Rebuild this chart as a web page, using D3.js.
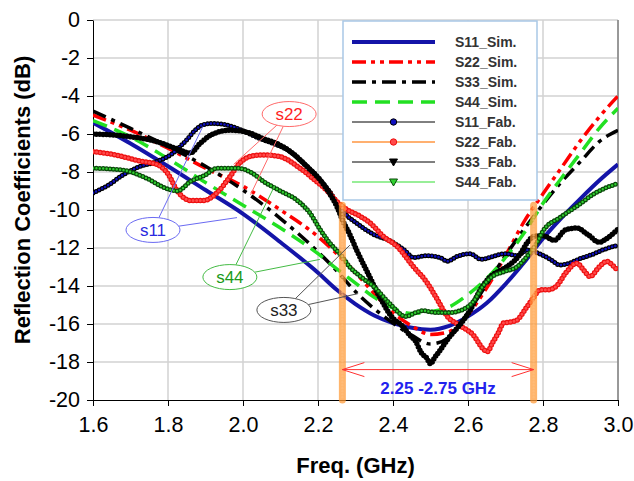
<!DOCTYPE html>
<html>
<head>
<meta charset="utf-8">
<script src="https://cdn.jsdelivr.net/npm/d3@7"></script>
<style>
  body { margin: 0; background: #fff; }
  svg { display: block; }
  text { font-family: "Liberation Sans", Arial, Helvetica, sans-serif; }
</style>
</head>
<body>
<svg id="chart" width="634" height="481"></svg>
<script>
// ---- axis ticks ----
const freqTicks = [1.6, 1.8, 2.0, 2.2, 2.4, 2.6, 2.8, 3.0];
const dbTicks = [0, -2, -4, -6, -8, -10, -12, -14, -16, -18, -20];

// ---- simulated reflection coefficients [GHz, dB] ----
const s11Sim = [[1.6,-5.4],[1.7,-6.5],[1.8,-7.7],[1.9,-8.95],[2.0,-10.2],[2.1,-11.7],[2.2,-13.3],[2.25,-14.2],[2.3,-14.95],[2.35,-15.55],[2.4,-15.95],[2.45,-16.2],[2.5,-16.3],[2.55,-16.1],[2.6,-15.6],[2.65,-14.9],[2.7,-13.9],[2.75,-12.75],[2.8,-11.5],[2.85,-10.4],[2.9,-9.4],[2.95,-8.45],[3.0,-7.6]];
const s22Sim = [[1.6,-5.0],[1.7,-5.8],[1.8,-6.75],[1.9,-7.8],[2.0,-8.75],[2.1,-10.0],[2.2,-11.4],[2.25,-12.3],[2.3,-13.3],[2.35,-14.4],[2.4,-15.4],[2.45,-16.1],[2.5,-16.55],[2.55,-16.4],[2.6,-15.5],[2.65,-14.1],[2.7,-12.4],[2.75,-10.6],[2.8,-9.15],[2.85,-7.75],[2.9,-6.35],[2.95,-5.1],[3.0,-4.0]];
const s33Sim = [[1.6,-4.8],[1.7,-5.7],[1.8,-6.65],[1.9,-7.7],[2.0,-8.95],[2.1,-10.45],[2.2,-12.2],[2.25,-13.2],[2.3,-14.3],[2.35,-15.2],[2.4,-15.95],[2.45,-16.6],[2.5,-17.05],[2.55,-16.7],[2.6,-15.4],[2.65,-13.9],[2.7,-12.4],[2.75,-11.0],[2.8,-9.7],[2.85,-8.5],[2.9,-7.45],[2.95,-6.4],[3.0,-5.8]];
const s44Sim = [[1.6,-5.3],[1.7,-6.15],[1.8,-7.3],[1.9,-8.55],[2.0,-9.75],[2.1,-10.95],[2.2,-12.3],[2.25,-13.1],[2.3,-13.85],[2.35,-14.6],[2.4,-15.15],[2.45,-15.45],[2.5,-15.35],[2.55,-15.1],[2.6,-14.45],[2.65,-13.6],[2.7,-12.5],[2.75,-11.2],[2.8,-9.65],[2.85,-8.3],[2.9,-7.0],[2.95,-5.7],[3.0,-4.65]];

// ---- measured (fabricated) reflection coefficients [GHz, dB] ----
const s11Fab = [[1.6,-9.1],[1.64,-8.7],[1.68,-8.15],[1.72,-7.75],[1.77,-7.45],[1.81,-7.05],[1.85,-6.3],[1.875,-5.75],[1.895,-5.5],[1.92,-5.45],[1.95,-5.5],[1.99,-5.75],[2.04,-6.2],[2.08,-6.5],[2.12,-6.85],[2.16,-7.5],[2.2,-8.3],[2.23,-9.0],[2.26,-9.9],[2.28,-10.35],[2.3,-10.65],[2.35,-11.3],[2.39,-11.6],[2.43,-12.1],[2.455,-12.5],[2.49,-12.4],[2.525,-12.5],[2.545,-12.7],[2.57,-12.45],[2.605,-12.3],[2.635,-12.6],[2.665,-12.45],[2.7,-12.3],[2.73,-12.4],[2.76,-12.1],[2.79,-12.3],[2.82,-12.6],[2.845,-12.9],[2.87,-12.8],[2.9,-12.55],[2.93,-12.35],[2.96,-12.1],[3.0,-11.85]];
const s22Fab = [[1.6,-6.93],[1.66,-7.1],[1.72,-7.4],[1.77,-7.6],[1.8,-8.1],[1.825,-9.0],[1.86,-9.5],[1.895,-9.5],[1.93,-9.1],[1.965,-8.25],[1.99,-7.55],[2.025,-7.15],[2.055,-7.1],[2.1,-7.2],[2.145,-7.7],[2.19,-8.4],[2.225,-9.0],[2.25,-9.55],[2.275,-9.95],[2.31,-10.3],[2.34,-10.7],[2.375,-11.4],[2.41,-11.9],[2.455,-13.0],[2.49,-13.8],[2.515,-14.6],[2.545,-15.6],[2.58,-16.1],[2.615,-16.6],[2.64,-17.3],[2.652,-17.45],[2.665,-17.0],[2.68,-16.5],[2.695,-15.95],[2.712,-15.9],[2.73,-15.8],[2.757,-15.1],[2.775,-14.6],[2.792,-14.2],[2.815,-14.2],[2.836,-14.0],[2.863,-13.25],[2.89,-12.8],[2.91,-13.2],[2.925,-13.5],[2.95,-13.0],[2.97,-12.7],[2.985,-12.9],[3.0,-13.2]];
const s33Fab = [[1.6,-6.0],[1.68,-6.1],[1.77,-6.4],[1.82,-6.75],[1.86,-7.0],[1.885,-6.5],[1.92,-6.0],[1.965,-5.8],[2.01,-5.9],[2.055,-6.25],[2.09,-6.5],[2.125,-6.9],[2.17,-7.7],[2.205,-8.4],[2.23,-9.1],[2.25,-9.8],[2.267,-10.6],[2.285,-11.3],[2.305,-12.2],[2.33,-13.2],[2.365,-14.6],[2.4,-15.7],[2.425,-16.1],[2.445,-16.6],[2.46,-16.9],[2.475,-17.5],[2.49,-17.8],[2.5,-18.1],[2.51,-17.8],[2.525,-17.4],[2.55,-16.7],[2.58,-16.0],[2.605,-15.3],[2.63,-14.3],[2.66,-13.5],[2.685,-13.2],[2.71,-12.9],[2.74,-12.3],[2.757,-11.75],[2.775,-11.4],[2.8,-11.35],[2.83,-11.6],[2.86,-11.05],[2.89,-10.95],[2.92,-11.3],[2.95,-11.7],[2.97,-11.5],[3.0,-11.0]];
const s44Fab = [[1.6,-7.8],[1.68,-7.9],[1.74,-8.3],[1.8,-8.9],[1.825,-9.0],[1.86,-8.5],[1.9,-8.15],[1.93,-7.8],[1.985,-7.8],[2.02,-8.0],[2.055,-8.5],[2.1,-9.0],[2.145,-9.5],[2.18,-10.2],[2.205,-11.0],[2.23,-11.7],[2.26,-12.35],[2.285,-13.0],[2.32,-13.6],[2.35,-14.05],[2.39,-14.9],[2.435,-15.6],[2.46,-15.4],[2.48,-15.3],[2.515,-15.4],[2.55,-15.4],[2.585,-15.25],[2.615,-14.8],[2.64,-14.0],[2.665,-13.5],[2.695,-13.25],[2.73,-13.0],[2.757,-12.45],[2.783,-11.75],[2.8,-11.1],[2.845,-10.4],[2.89,-9.8],[2.94,-9.1],[3.0,-8.6]];

// ---- operating band markers ----
const bandEdges = [2.265, 2.775];
const bandTop = -9.75;
const bandArrowLevel = -18.4;
const bandLabel = "2.25 -2.75 GHz";

// ---- callout labels: centre and the points they point at [GHz, dB] ----
const callouts = [
  { label: "s11", text: "#2a2ae0", stroke: "#6a6af2", centre: [1.76, -11.05],  targets: [[1.893, -5.6], [1.984, -10.4]] },
  { label: "s22", text: "#ff1f1f", stroke: "#ff6a6a", centre: [2.123, -4.95],  targets: [[1.975, -7.6], [2.02, -9.2]] },
  { label: "s44", text: "#1a9a1a", stroke: "#44bb44", centre: [1.965, -13.53], targets: [[2.085, -8.7], [2.205, -12.6]] },
  { label: "s33", text: "#222222", stroke: "#555555", centre: [2.109, -15.26], targets: [[2.285, -11.85], [2.307, -14.4]] }
];

// ---- series styles ----
const simSeries = [
  { name: "S11_Sim.", data: s11Sim, color: "#1414a8", width: 4,   dash: null },
  { name: "S22_Sim.", data: s22Sim, color: "#ff0000", width: 3.5, dash: "14 5 4 5 4 5" },
  { name: "S33_Sim.", data: s33Sim, color: "#000000", width: 3.5, dash: "14 6 4 6" },
  { name: "S44_Sim.", data: s44Sim, color: "#22e022", width: 3.5, dash: "15 8" }
];
const fabSeries = [
  { name: "S11_Fab.", data: s11Fab, edge: "#000000", fill: "#1010c0", outer: 5,   inner: 2.6, gap: 3.4, legendLine: "#000000", legendLineW: 1,   shape: "circle" },
  { name: "S22_Fab.", data: s22Fab, edge: "#ee1010", fill: "#ff4a4a", outer: 5.5, inner: 3,   gap: 3.6, legendLine: "#ffb070", legendLineW: 2,   shape: "circle" },
  { name: "S33_Fab.", data: s33Fab, edge: "#000000", fill: "#000000", outer: 5.5, inner: 0,   gap: 3.4, legendLine: "#000000", legendLineW: 1,   shape: "triangle" },
  { name: "S44_Fab.", data: s44Fab, edge: "#0a4a0a", fill: "#30d030", outer: 5,   inner: 2.4, gap: 3.4, legendLine: "#33dd33", legendLineW: 1.2, shape: "triangle" }
];

const svg = d3.select("#chart");
svg.append("rect").attr("width", 634).attr("height", 481).attr("fill", "#fff");

const x = d3.scaleLinear().domain([1.6, 3.0]).range([93, 618]);
const y = d3.scaleLinear().domain([-20, 0]).range([400, 20]);

// gridlines
const grid = svg.append("g").attr("stroke", "#d2d2d2").attr("stroke-width", 1.5);
grid.selectAll("line.v").data(freqTicks.slice(1)).join("line")
  .attr("x1", d => x(d)).attr("x2", d => x(d)).attr("y1", y(0)).attr("y2", y(-20));
grid.selectAll("line.h").data(dbTicks.slice(0, -1)).join("line")
  .attr("x1", x(1.6)).attr("x2", x(3.0)).attr("y1", d => y(d)).attr("y2", d => y(d));
svg.append("line").attr("x1", x(3.0)).attr("x2", x(3.0)).attr("y1", y(0)).attr("y2", y(-20))
  .attr("stroke", "#555").attr("stroke-width", 1);

// axes (plain hyphen for negative labels)
const xAxis = svg.append("g").attr("transform", `translate(0,${y(-20)})`)
  .call(d3.axisBottom(x).tickValues(freqTicks).tickFormat(d => d.toFixed(1)).tickSize(6).tickSizeOuter(0).tickPadding(11));
const yAxis = svg.append("g").attr("transform", `translate(${x(1.6)},0)`)
  .call(d3.axisLeft(y).tickValues(dbTicks).tickFormat(d => String(d)).tickSize(6).tickSizeOuter(0).tickPadding(7));
[xAxis, yAxis].forEach(a => {
  a.selectAll("path,line").attr("stroke", "#000").attr("stroke-width", 1);
  a.selectAll("text").attr("font-size", 21.5).attr("fill", "#000")
    .attr("font-family", '"Liberation Sans", Arial, Helvetica, sans-serif');
});

svg.append("text").attr("x", (x(1.6) + x(3.0)) / 2).attr("y", 473)
  .attr("text-anchor", "middle").attr("font-size", 22).attr("font-weight", "bold").text("Freq. (GHz)");
svg.append("text").attr("transform", `translate(30,200) rotate(-90)`)
  .attr("text-anchor", "middle").attr("font-size", 22).attr("font-weight", "bold").text("Reflection Coefficients (dB)");

// curves
svg.append("clipPath").attr("id", "plotClip").append("rect")
  .attr("x", x(1.6)).attr("y", y(0) - 4).attr("width", x(3.0) - x(1.6)).attr("height", y(-20) - y(0) + 4);
const plot = svg.append("g").attr("clip-path", "url(#plotClip)");
const line = d3.line().x(d => x(d[0])).y(d => y(d[1])).curve(d3.curveMonotoneX);

simSeries.forEach(s => {
  plot.append("path").attr("d", line(s.data)).attr("fill", "none")
    .attr("stroke", s.color).attr("stroke-width", s.width)
    .attr("stroke-dasharray", s.dash).attr("stroke-linejoin", "round");
});

fabSeries.forEach(s => {
  const d = line(s.data);
  plot.append("path").attr("d", d).attr("fill", "none")
    .attr("stroke", s.edge).attr("stroke-width", s.outer)
    .attr("stroke-linecap", "round").attr("stroke-dasharray", `0 ${s.gap}`);
  if (s.inner > 0) {
    plot.append("path").attr("d", d).attr("fill", "none")
      .attr("stroke", s.fill).attr("stroke-width", s.inner)
      .attr("stroke-linecap", "round").attr("stroke-dasharray", `0 ${s.gap}`);
  }
});

// operating band: orange bars, double arrow and label
const band = svg.append("g");
bandEdges.forEach(f => {
  band.append("line").attr("x1", x(f)).attr("x2", x(f)).attr("y1", y(bandTop)).attr("y2", y(-20))
    .attr("stroke", "#ff9933").attr("stroke-opacity", 0.72).attr("stroke-width", 7).attr("stroke-linecap", "round");
  band.append("line").attr("x1", x(f)).attr("x2", x(f)).attr("y1", y(bandTop)).attr("y2", y(-20))
    .attr("stroke", "#ffc080").attr("stroke-opacity", 0.6).attr("stroke-width", 2.5)
    .attr("stroke-linecap", "round").attr("stroke-dasharray", "0 3");
});
const ay = y(bandArrowLevel), ax0 = x(bandEdges[0]), ax1 = x(bandEdges[1]);
band.append("path").attr("fill", "none").attr("stroke", "#ff3030").attr("stroke-width", 1)
  .attr("d", `M${ax0},${ay}H${ax1}M${ax0 + 22},${ay - 7}L${ax0},${ay}L${ax0 + 22},${ay + 7}M${ax1 - 22},${ay - 7}L${ax1},${ay}L${ax1 - 22},${ay + 7}`);
band.append("text").attr("x", (ax0 + ax1) / 2).attr("y", y(-20) - 6).attr("text-anchor", "middle")
  .attr("font-size", 17).attr("font-weight", "bold").attr("fill", "#2222ee").text(bandLabel);

// callouts
const rx = 27, ry = 12.5;
callouts.forEach(c => {
  const cx = x(c.centre[0]), cy = y(c.centre[1]);
  const g = svg.append("g");
  c.targets.forEach(t => {
    const tx = x(t[0]), ty = y(t[1]);
    const dx = tx - cx, dy = ty - cy;
    const k = 1 / Math.sqrt((dx / rx) ** 2 + (dy / ry) ** 2);
    g.append("line").attr("x1", cx + dx * k).attr("y1", cy + dy * k).attr("x2", tx).attr("y2", ty)
      .attr("stroke", c.stroke).attr("stroke-width", 1);
  });
  g.append("ellipse").attr("cx", cx).attr("cy", cy).attr("rx", rx).attr("ry", ry)
    .attr("fill", "#fff").attr("stroke", c.stroke).attr("stroke-width", 1);
  g.append("text").attr("x", cx).attr("y", cy + 6).attr("text-anchor", "middle")
    .attr("font-size", 17).attr("fill", c.text)
    .style("font-family", '"Liberation Sans Narrow", "Arial Narrow", "Liberation Sans", Arial, sans-serif')
    .text(c.label);
});

// legend
const lg = svg.append("g");
lg.append("rect").attr("x", 343).attr("y", 21).attr("width", 194).attr("height", 179)
  .attr("fill", "#fff").attr("stroke", "#a9c8e6").attr("stroke-width", 1.5);
const rowY = i => 42 + i * 20;
const lx0 = 352, lx1 = 435, lmid = (lx0 + lx1) / 2, ltx = 455;
simSeries.forEach((s, i) => {
  lg.append("line").attr("x1", lx0).attr("x2", lx1).attr("y1", rowY(i)).attr("y2", rowY(i))
    .attr("stroke", s.color).attr("stroke-width", s.width).attr("stroke-dasharray", s.dash);
  lg.append("text").attr("x", ltx).attr("y", rowY(i) + 5).attr("font-size", 14).attr("font-weight", "bold")
    .attr("fill", "#333").text(s.name);
});
fabSeries.forEach((s, j) => {
  const i = j + 4, yy = rowY(i);
  lg.append("line").attr("x1", lx0).attr("x2", lx1).attr("y1", yy).attr("y2", yy)
    .attr("stroke", s.legendLine).attr("stroke-width", s.legendLineW);
  if (s.shape === "circle") {
    lg.append("circle").attr("cx", lmid).attr("cy", yy).attr("r", 3.2)
      .attr("fill", s.fill).attr("stroke", s.edge).attr("stroke-width", 1);
  } else {
    lg.append("path").attr("transform", `translate(${lmid},${yy})`)
      .attr("d", "M-4,-3L4,-3L0,4Z").attr("fill", s.fill).attr("stroke", s.edge).attr("stroke-width", 1);
  }
  lg.append("text").attr("x", ltx).attr("y", yy + 5).attr("font-size", 14).attr("font-weight", "bold")
    .attr("fill", "#333").text(s.name);
});
</script>
</body>
</html>
